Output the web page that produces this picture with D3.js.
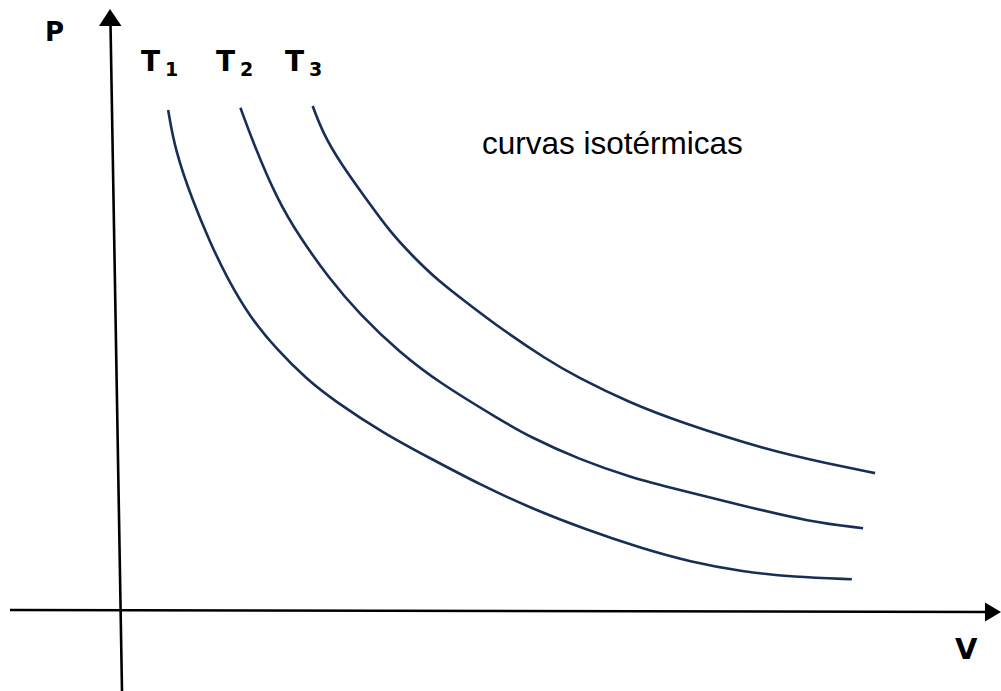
<!DOCTYPE html>
<html>
<head>
<meta charset="utf-8">
<script src="https://cdn.jsdelivr.net/npm/d3@7"></script>
<style>
  body { margin: 0; background: #fff; }
  .axis-line { stroke: #000; stroke-width: 2.6; }
  .iso { fill: none; stroke: #172f57; stroke-width: 2.6; }
  .lbl { font-family: "DejaVu Sans", Verdana, sans-serif; font-weight: bold; fill: #000; }
  .note { font-family: "Liberation Sans", Arial, sans-serif; fill: #000; }
</style>
</head>
<body>
<div id="chart"></div>
<script>
// isotherm curves (V, P in arbitrary units 0-100)
const t1V = [5.6, 6.4, 8.4, 10.5, 12.4, 15.1, 18.3, 21.7, 24.8, 30.6, 36.4, 41.9, 47.7, 54.3, 60.5, 66.3, 72.4, 78.3, 85.1];
const t1P = [86.2, 79.3, 70.7, 63.3, 57.4, 50.5, 44.8, 39.8, 36.2, 30.5, 25.9, 21.6, 17.6, 13.8, 10.7, 8.3, 6.6, 5.7, 5.3];

const t2V = [14.0, 15.5, 18.3, 20.9, 24.2, 27.9, 32.6, 37.2, 44.2, 47.7, 53.5, 59.3, 65.1, 72.4, 80.2, 86.4];
const t2P = [86.6, 80.5, 70.7, 64.3, 57.4, 50.9, 44.3, 39.1, 32.8, 29.8, 25.9, 22.9, 20.7, 18.0, 15.2, 14.1];

const t3V = [22.4, 23.6, 25.6, 28.7, 31.4, 34.1, 36.9, 40.4, 44.2, 49.7, 53.1, 59.3, 65.1, 75.2, 82.2, 87.8];
const t3P = [86.9, 82.2, 77.1, 70.7, 65.2, 60.9, 56.9, 52.9, 48.6, 43.1, 40.2, 35.7, 32.4, 27.6, 25.3, 23.6];

const subscripts = ["1", "2", "3"];

const width = 1001, height = 691;

const svg = d3.select("#chart")
  .append("svg")
    .attr("width", width)
    .attr("height", height);

const x = d3.scaleLinear().domain([0, 100]).range([120, 980]);
const y = d3.scaleLinear().domain([0, 100]).range([610, 30]);

// axes (hand drawn look, y axis leans a little)
svg.append("line").attr("class", "axis-line")
  .attr("x1", 10).attr("y1", 610).attr("x2", 988).attr("y2", 612);
svg.append("path")
  .attr("d", "M1001,612 L985,602.5 L985,621.5 Z")
  .attr("fill", "#000");

svg.append("line").attr("class", "axis-line")
  .attr("x1", 122).attr("y1", 691).attr("x2", 110.5).attr("y2", 24);
svg.append("path")
  .attr("d", "M110,9 L99,26 L121.5,26 Z")
  .attr("fill", "#000");

// curves
const series = [
  d3.zip(t1V, t1P),
  d3.zip(t2V, t2P),
  d3.zip(t3V, t3P)
];

const line = d3.line()
  .x(d => x(d[0]))
  .y(d => y(d[1]))
  .curve(d3.curveBasis);

svg.selectAll(".iso")
  .data(series)
  .join("path")
    .attr("class", "iso")
    .attr("d", line);

// curve labels
const lblX = [141, 216, 285];
subscripts.forEach((s, i) => {
  const t = svg.append("text")
    .attr("class", "lbl")
    .attr("x", lblX[i])
    .attr("y", 71)
    .style("font-size", "28px")
    .text("T");
  t.append("tspan")
    .attr("dx", 5)
    .attr("dy", 5)
    .style("font-size", "19px")
    .text(s);
});

svg.append("text")
  .attr("class", "lbl")
  .attr("x", 45)
  .attr("y", 41)
  .style("font-size", "26px")
  .text("P");

svg.append("text")
  .attr("class", "lbl")
  .attr("x", 955)
  .attr("y", 659)
  .style("font-size", "29px")
  .text("V");

svg.append("text")
  .attr("class", "note")
  .attr("x", 482)
  .attr("y", 154)
  .style("font-size", "31.5px")
  .text("curvas isotérmicas");
</script>
</body>
</html>
